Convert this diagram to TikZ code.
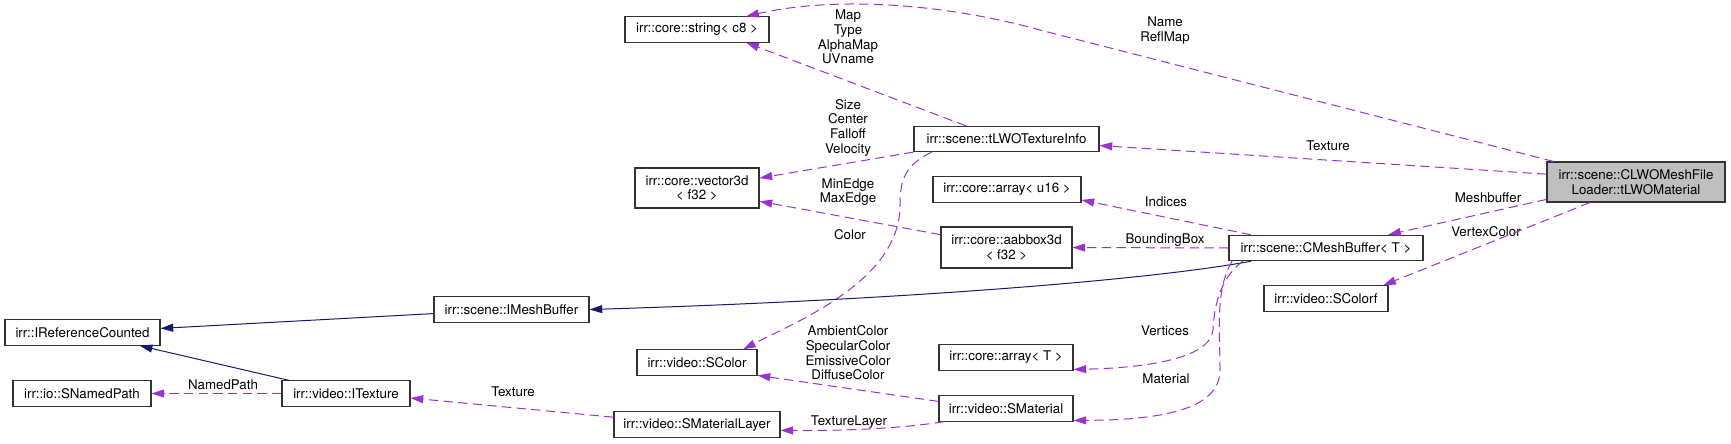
\documentclass[tikz,border=0pt]{standalone}
\usepackage{fontspec}
\setmainfont{TeX Gyre Heros}
\usetikzlibrary{arrows.meta}

\definecolor{depcol}{HTML}{9A32CD}
\definecolor{inhcol}{HTML}{191970}
\definecolor{curcol}{HTML}{BFBFBF}

\begin{document}
\begin{tikzpicture}[
    x=0.75pt, y=-0.75pt,
    cls/.style={draw=black!80, line width=0.8pt, fill=white, rectangle, inner sep=0pt, minimum height=19pt, align=center, font=\fontsize{10}{11}\selectfont},
    lbl/.style={inner sep=0pt, align=center, font=\fontsize{10}{11}\selectfont},
    dep/.style={draw=depcol, line width=0.75pt, dash pattern=on 7pt off 4pt, -{Triangle[length=9.5pt,width=6pt]}},
    inh/.style={draw=inhcol, line width=0.75pt, -{Triangle[length=9.5pt,width=6pt]}}
]
\useasboundingbox (0,0) rectangle (1731,443);

\node[cls, minimum width=108pt] (str) at (697,29.5) {irr::core::string< c8 >};
\node[cls, minimum width=138.75pt] (texinfo) at (1006.5,139) {irr::scene::tLWOTextureInfo};
\node[cls, minimum width=93pt, minimum height=30pt] (vec) at (697,188) {irr::core::vector3d\\< f32 >};
\node[cls, minimum width=111pt] (arru16) at (1007,189.5) {irr::core::array< u16 >};
\node[cls, minimum width=98.25pt, minimum height=30.75pt] (aabb) at (1006.5,247.5) {irr::core::aabbox3d\\< f32 >};
\node[cls, fill=curcol, minimum width=133.5pt, minimum height=30pt] (mat) at (1636,182) {irr::scene::CLWOMeshFile\\Loader::tLWOMaterial};
\node[cls, minimum width=145.5pt] (cmb) at (1326,248) {irr::scene::CMeshBuffer< T >};
\node[cls, minimum width=93pt] (scolorf) at (1326,298.5) {irr::video::SColorf};
\node[cls, minimum width=116.25pt] (imb) at (511.5,309.5) {irr::scene::IMeshBuffer};
\node[cls, minimum width=116.25pt] (irc) at (82.5,332.5) {irr::IReferenceCounted};
\node[cls, minimum width=90pt] (scolor) at (697,362.5) {irr::video::SColor};
\node[cls, minimum width=100.5pt] (arrt) at (1006,357.5) {irr::core::array< T >};
\node[cls, minimum width=103.5pt] (snp) at (82,393.5) {irr::io::SNamedPath};
\node[cls, minimum width=96pt] (itex) at (346,393.5) {irr::video::ITexture};
\node[cls, minimum width=100.5pt] (smat) at (1006,408.5) {irr::video::SMaterial};
\node[cls, minimum width=124.5pt] (smlay) at (697,424.5) {irr::video::SMaterialLayer};

\node[lbl] (lname) at (1165,30.5) {Name\\ReflMap};
\node[lbl] (lmap) at (848,37) {Map\\Type\\AlphaMap\\UVname};
\node[lbl] (lsize) at (848,127.5) {Size\\Center\\Falloff\\Velocity};
\node[lbl] (ltex) at (1328,146) {Texture};
\node[lbl] (ledge) at (848,192) {MinEdge\\MaxEdge};
\node[lbl] (lind) at (1166,202) {Indices};
\node[lbl] (lmesh) at (1488,198) {Meshbuffer};
\node[lbl] (lcolor) at (850,235) {Color};
\node[lbl] (lbox) at (1165,240) {BoundingBox};
\node[lbl] (lvcol) at (1486,232) {VertexColor};
\node[lbl] (lvert) at (1165,331) {Vertices};
\node[lbl] (lamb) at (848,353) {AmbientColor\\SpecularColor\\EmissiveColor\\DiffuseColor};
\node[lbl] (lmatl) at (1166,379) {Material};
\node[lbl] (lnp) at (223,385) {NamedPath};
\node[lbl] (ltexb) at (513,392) {Texture};
\node[lbl] (ltl) at (849,422) {TextureLayer};

\draw[dep] (mat.166) -- (1040,30) .. controls (950,5) and (840,-5) .. (str.15);
\draw[dep] (texinfo.162) -- (str.-15);
\draw[dep] (texinfo.188) -- (vec.9);
\draw[dep] (mat.175) -- (texinfo.-4);
\draw[dep] (texinfo.190) .. controls (905,165) and (900,180) .. (900,205) .. controls (900,280) and (800,320) .. (scolor.16);
\draw[dep] (aabb.169) -- (vec.-12);
\draw[dep] (cmb.170) -- (arru16.-8);
\draw[dep] (cmb.west) -- (aabb.east);
\draw[dep] (mat.191) -- (cmb.12);
\draw[dep] (mat.204) -- (scolorf.13);
\draw[inh] (cmb.190) .. controls (1150,280) and (900,300) .. (imb.east);
\draw[dep] (cmb.189) .. controls (1218,280) and (1214,310) .. (1213,330) .. controls (1210,360) and (1140,368) .. (arrt.-10);
\draw[dep] (cmb.188) .. controls (1215,290) and (1220,330) .. (1220,370) .. controls (1220,410) and (1160,420) .. (smat.-10);
\draw[dep] (smat.174) -- (scolor.-12);
\draw[dep] (smat.192) .. controls (910,427) and (860,431) .. (smlay.-4);
\draw[dep] (smlay.175) -- (itex.-4);
\draw[dep] (itex.west) -- (snp.east);
\draw[inh] (imb.183) -- (irc.3);
\draw[inh] (itex.167) -- (irc.-13);
\end{tikzpicture}
\end{document}
